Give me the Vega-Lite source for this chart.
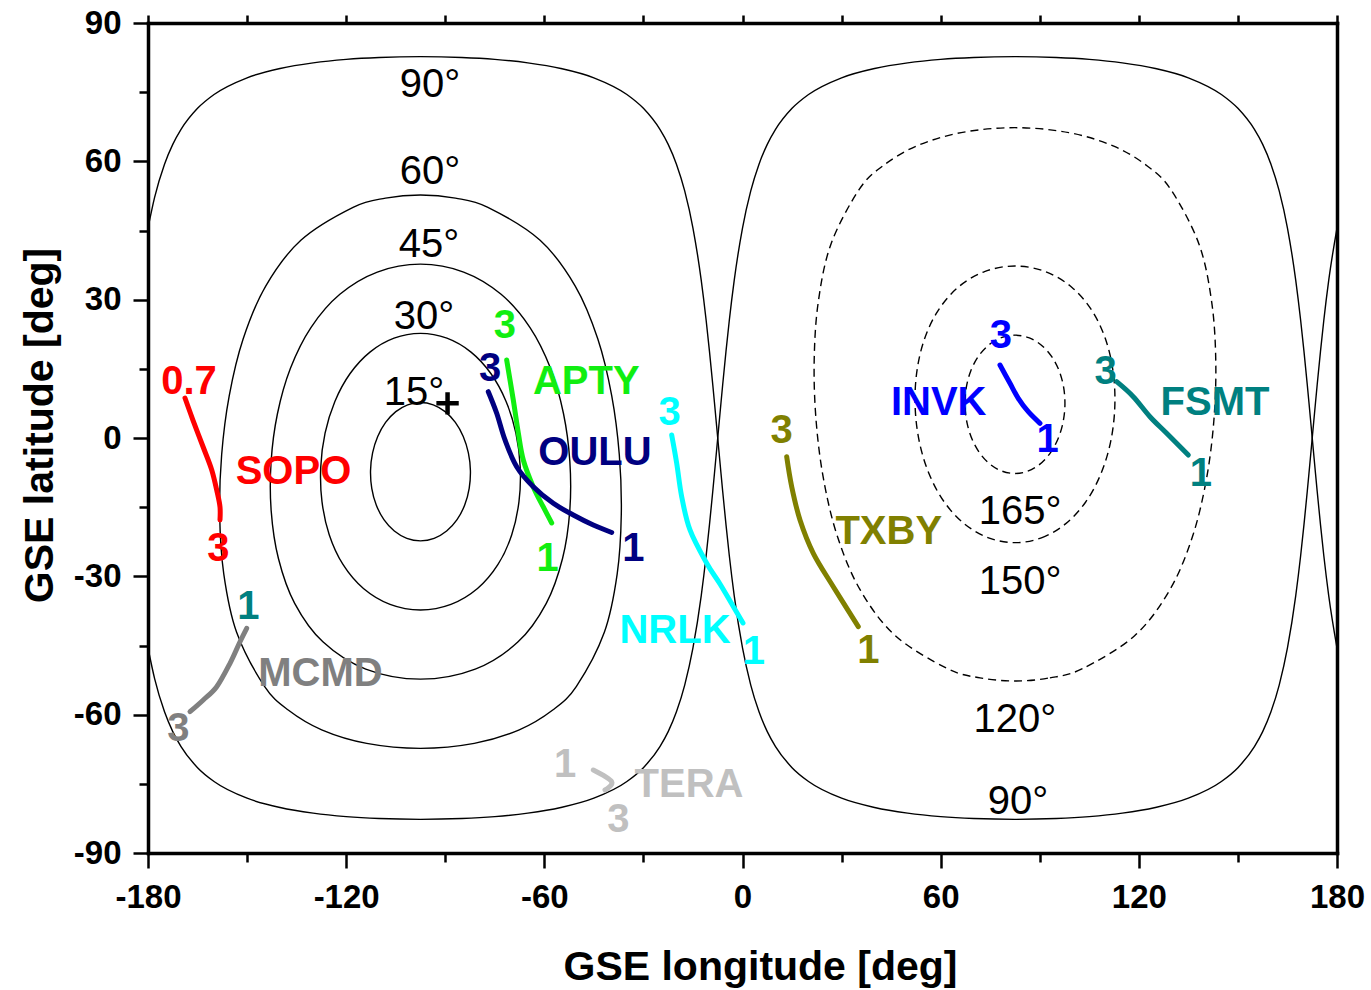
{
"$schema": "https://vega.github.io/schema/vega-lite/v6.json",
"width": 1189,
"height": 830,
"autosize": {"type": "none"},
"padding": {"left": 148, "top": 23, "right": 34, "bottom": 137},
"background": "white",
"config": {"view": {"stroke": null}, "font": "Liberation Sans"},
"datasets": {
"gc": [
{"g":"A","lon":-180,"lat":45.54},{"g":"A","lon":-178,"lat":52.18},{"g":"A","lon":-175,"lat":59.38},{"g":"A","lon":-172.5,"lat":63.67},{"g":"A","lon":-170,"lat":66.92},{"g":"A","lon":-165,"lat":71.49},{"g":"A","lon":-160,"lat":74.49},{"g":"A","lon":-150,"lat":78.12},{"g":"A","lon":-140,"lat":80.14},{"g":"A","lon":-130,"lat":81.36},{"g":"A","lon":-120,"lat":82.11},{"g":"A","lon":-110,"lat":82.52},{"g":"A","lon":-97.5,"lat":82.70},{"g":"A","lon":-85,"lat":82.52},{"g":"A","lon":-75,"lat":82.11},{"g":"A","lon":-65,"lat":81.36},{"g":"A","lon":-55,"lat":80.14},{"g":"A","lon":-45,"lat":78.12},{"g":"A","lon":-35,"lat":74.49},{"g":"A","lon":-30,"lat":71.49},{"g":"A","lon":-25,"lat":66.92},{"g":"A","lon":-22.5,"lat":63.67},{"g":"A","lon":-20,"lat":59.38},{"g":"A","lon":-17.5,"lat":53.58},{"g":"A","lon":-15,"lat":45.54},{"g":"A","lon":-12.5,"lat":34.23},{"g":"A","lon":-11,"lat":25.48},{"g":"A","lon":-10,"lat":18.80},{"g":"A","lon":-9,"lat":11.55},{"g":"A","lon":-8.5,"lat":7.76},{"g":"A","lon":-7.5,"lat":0},{"g":"A","lon":-6.5,"lat":-7.76},{"g":"A","lon":-6,"lat":-11.55},{"g":"A","lon":-5,"lat":-18.80},{"g":"A","lon":-4,"lat":-25.48},{"g":"A","lon":-2.5,"lat":-34.23},{"g":"A","lon":0,"lat":-45.54},{"g":"A","lon":2.5,"lat":-53.58},{"g":"A","lon":5,"lat":-59.38},{"g":"A","lon":7.5,"lat":-63.67},{"g":"A","lon":10,"lat":-66.92},{"g":"A","lon":15,"lat":-71.49},{"g":"A","lon":20,"lat":-74.49},{"g":"A","lon":30,"lat":-78.12},{"g":"A","lon":40,"lat":-80.14},{"g":"A","lon":50,"lat":-81.36},{"g":"A","lon":60,"lat":-82.11},{"g":"A","lon":70,"lat":-82.52},{"g":"A","lon":82.5,"lat":-82.70},{"g":"A","lon":95,"lat":-82.52},{"g":"A","lon":105,"lat":-82.11},{"g":"A","lon":115,"lat":-81.36},{"g":"A","lon":125,"lat":-80.14},{"g":"A","lon":135,"lat":-78.12},{"g":"A","lon":145,"lat":-74.49},{"g":"A","lon":150,"lat":-71.49},{"g":"A","lon":155,"lat":-66.92},{"g":"A","lon":157.5,"lat":-63.67},{"g":"A","lon":160,"lat":-59.38},{"g":"A","lon":162.5,"lat":-53.58},{"g":"A","lon":165,"lat":-45.54},{"g":"A","lon":167.5,"lat":-34.23},{"g":"A","lon":169,"lat":-25.48},{"g":"A","lon":170,"lat":-18.80},{"g":"A","lon":171,"lat":-11.55},{"g":"A","lon":171.5,"lat":-7.76},{"g":"A","lon":172.5,"lat":0},{"g":"A","lon":173.5,"lat":7.76},{"g":"A","lon":174,"lat":11.55},{"g":"A","lon":175,"lat":18.80},{"g":"A","lon":176,"lat":25.48},{"g":"A","lon":177.5,"lat":34.23},{"g":"A","lon":180,"lat":45.54},
{"g":"B","lon":-180,"lat":-45.54},{"g":"B","lon":-178,"lat":-52.18},{"g":"B","lon":-175,"lat":-59.38},{"g":"B","lon":-172.5,"lat":-63.67},{"g":"B","lon":-170,"lat":-66.92},{"g":"B","lon":-165,"lat":-71.49},{"g":"B","lon":-160,"lat":-74.49},{"g":"B","lon":-150,"lat":-78.12},{"g":"B","lon":-140,"lat":-80.14},{"g":"B","lon":-130,"lat":-81.36},{"g":"B","lon":-120,"lat":-82.11},{"g":"B","lon":-110,"lat":-82.52},{"g":"B","lon":-97.5,"lat":-82.70},{"g":"B","lon":-85,"lat":-82.52},{"g":"B","lon":-75,"lat":-82.11},{"g":"B","lon":-65,"lat":-81.36},{"g":"B","lon":-55,"lat":-80.14},{"g":"B","lon":-45,"lat":-78.12},{"g":"B","lon":-35,"lat":-74.49},{"g":"B","lon":-30,"lat":-71.49},{"g":"B","lon":-25,"lat":-66.92},{"g":"B","lon":-22.5,"lat":-63.67},{"g":"B","lon":-20,"lat":-59.38},{"g":"B","lon":-17.5,"lat":-53.58},{"g":"B","lon":-15,"lat":-45.54},{"g":"B","lon":-12.5,"lat":-34.23},{"g":"B","lon":-11,"lat":-25.48},{"g":"B","lon":-10,"lat":-18.80},{"g":"B","lon":-9,"lat":-11.55},{"g":"B","lon":-8.5,"lat":-7.76},{"g":"B","lon":-7.5,"lat":0},{"g":"B","lon":-6.5,"lat":7.76},{"g":"B","lon":-6,"lat":11.55},{"g":"B","lon":-5,"lat":18.80},{"g":"B","lon":-4,"lat":25.48},{"g":"B","lon":-2.5,"lat":34.23},{"g":"B","lon":0,"lat":45.54},{"g":"B","lon":2.5,"lat":53.58},{"g":"B","lon":5,"lat":59.38},{"g":"B","lon":7.5,"lat":63.67},{"g":"B","lon":10,"lat":66.92},{"g":"B","lon":15,"lat":71.49},{"g":"B","lon":20,"lat":74.49},{"g":"B","lon":30,"lat":78.12},{"g":"B","lon":40,"lat":80.14},{"g":"B","lon":50,"lat":81.36},{"g":"B","lon":60,"lat":82.11},{"g":"B","lon":70,"lat":82.52},{"g":"B","lon":82.5,"lat":82.70},{"g":"B","lon":95,"lat":82.52},{"g":"B","lon":105,"lat":82.11},{"g":"B","lon":115,"lat":81.36},{"g":"B","lon":125,"lat":80.14},{"g":"B","lon":135,"lat":78.12},{"g":"B","lon":145,"lat":74.49},{"g":"B","lon":150,"lat":71.49},{"g":"B","lon":155,"lat":66.92},{"g":"B","lon":157.5,"lat":63.67},{"g":"B","lon":160,"lat":59.38},{"g":"B","lon":162.5,"lat":53.58},{"g":"B","lon":165,"lat":45.54},{"g":"B","lon":167.5,"lat":34.23},{"g":"B","lon":169,"lat":25.48},{"g":"B","lon":170,"lat":18.80},{"g":"B","lon":171,"lat":11.55},{"g":"B","lon":171.5,"lat":7.76},{"g":"B","lon":172.5,"lat":0},{"g":"B","lon":173.5,"lat":-7.76},{"g":"B","lon":174,"lat":-11.55},{"g":"B","lon":175,"lat":-18.80},{"g":"B","lon":176,"lat":-25.48},{"g":"B","lon":177.5,"lat":-34.23},{"g":"B","lon":180,"lat":-45.54}
],
"solid": [
{"c":"15","i":0,"lon":-97.5,"lat":7.70},{"c":"15","i":1,"lon":-93.63,"lat":7.20},{"c":"15","i":2,"lon":-90.03,"lat":5.72},{"c":"15","i":3,"lon":-86.94,"lat":3.37},{"c":"15","i":4,"lon":-84.55,"lat":0.32},{"c":"15","i":5,"lon":-83.00,"lat":-3.23},{"c":"15","i":6,"lon":-82.38,"lat":-7.05},{"c":"15","i":7,"lon":-82.75,"lat":-10.91},{"c":"15","i":8,"lon":-84.11,"lat":-14.54},{"c":"15","i":9,"lon":-86.43,"lat":-17.71},{"c":"15","i":10,"lon":-89.58,"lat":-20.18},{"c":"15","i":11,"lon":-93.36,"lat":-21.76},{"c":"15","i":12,"lon":-97.5,"lat":-22.30},{"c":"15","i":13,"lon":-101.64,"lat":-21.76},{"c":"15","i":14,"lon":-105.42,"lat":-20.18},{"c":"15","i":15,"lon":-108.57,"lat":-17.71},{"c":"15","i":16,"lon":-110.89,"lat":-14.54},{"c":"15","i":17,"lon":-112.25,"lat":-10.91},{"c":"15","i":18,"lon":-112.62,"lat":-7.05},{"c":"15","i":19,"lon":-112.00,"lat":-3.23},{"c":"15","i":20,"lon":-110.45,"lat":0.32},{"c":"15","i":21,"lon":-108.06,"lat":3.37},{"c":"15","i":22,"lon":-104.97,"lat":5.72},{"c":"15","i":23,"lon":-101.37,"lat":7.20},
{"c":"30","i":0,"lon":-97.5,"lat":22.70},{"c":"30","i":1,"lon":-89.50,"lat":21.65},{"c":"30","i":2,"lon":-82.20,"lat":18.63},{"c":"30","i":3,"lon":-76.14,"lat":13.93},{"c":"30","i":4,"lon":-71.58,"lat":7.93},{"c":"30","i":5,"lon":-68.61,"lat":1.05},{"c":"30","i":6,"lon":-67.30,"lat":-6.32},{"c":"30","i":7,"lon":-67.68,"lat":-13.79},{"c":"30","i":8,"lon":-69.87,"lat":-20.98},{"c":"30","i":9,"lon":-74.03,"lat":-27.43},{"c":"30","i":10,"lon":-80.23,"lat":-32.65},{"c":"30","i":11,"lon":-88.28,"lat":-36.09},{"c":"30","i":12,"lon":-97.5,"lat":-37.30},{"c":"30","i":13,"lon":-106.72,"lat":-36.09},{"c":"30","i":14,"lon":-114.77,"lat":-32.65},{"c":"30","i":15,"lon":-120.97,"lat":-27.43},{"c":"30","i":16,"lon":-125.13,"lat":-20.98},{"c":"30","i":17,"lon":-127.32,"lat":-13.79},{"c":"30","i":18,"lon":-127.70,"lat":-6.32},{"c":"30","i":19,"lon":-126.39,"lat":1.05},{"c":"30","i":20,"lon":-123.42,"lat":7.93},{"c":"30","i":21,"lon":-118.86,"lat":13.93},{"c":"30","i":22,"lon":-112.80,"lat":18.63},{"c":"30","i":23,"lon":-105.50,"lat":21.65},
{"c":"45","i":0,"lon":-97.5,"lat":37.70},{"c":"45","i":1,"lon":-84.43,"lat":35.99},{"c":"45","i":2,"lon":-73.09,"lat":31.17},{"c":"45","i":3,"lon":-64.33,"lat":23.96},{"c":"45","i":4,"lon":-58.13,"lat":15.12},{"c":"45","i":5,"lon":-54.19,"lat":5.26},{"c":"45","i":6,"lon":-52.27,"lat":-5.16},{"c":"45","i":7,"lon":-52.29,"lat":-15.75},{"c":"45","i":8,"lon":-54.49,"lat":-26.14},{"c":"45","i":9,"lon":-59.41,"lat":-35.86},{"c":"45","i":10,"lon":-67.95,"lat":-44.21},{"c":"45","i":11,"lon":-80.92,"lat":-50.12},{"c":"45","i":12,"lon":-97.5,"lat":-52.30},{"c":"45","i":13,"lon":-114.08,"lat":-50.12},{"c":"45","i":14,"lon":-127.05,"lat":-44.21},{"c":"45","i":15,"lon":-135.59,"lat":-35.86},{"c":"45","i":16,"lon":-140.51,"lat":-26.14},{"c":"45","i":17,"lon":-142.71,"lat":-15.75},{"c":"45","i":18,"lon":-142.73,"lat":-5.16},{"c":"45","i":19,"lon":-140.81,"lat":5.26},{"c":"45","i":20,"lon":-136.87,"lat":15.12},{"c":"45","i":21,"lon":-130.67,"lat":23.96},{"c":"45","i":22,"lon":-121.91,"lat":31.17},{"c":"45","i":23,"lon":-110.57,"lat":35.99},
{"c":"60","i":0,"lon":-97.5,"lat":52.70},{"c":"60","i":1,"lon":-86.92,"lat":52.01},{"c":"60","i":2,"lon":-77.09,"lat":50.02},{"c":"60","i":3,"lon":-61.28,"lat":42.88},{"c":"60","i":4,"lon":-50.64,"lat":32.95},{"c":"60","i":5,"lon":-43.80,"lat":21.47},{"c":"60","i":6,"lon":-39.59,"lat":9.14},{"c":"60","i":7,"lon":-37.30,"lat":-3.64},{"c":"60","i":8,"lon":-36.70,"lat":-16.61},{"c":"60","i":9,"lon":-37.95,"lat":-29.54},{"c":"60","i":10,"lon":-41.83,"lat":-42.14},{"c":"60","i":11,"lon":-50.28,"lat":-53.85},{"c":"60","i":12,"lon":-57.45,"lat":-58.99},{"c":"60","i":13,"lon":-67.59,"lat":-63.29},{"c":"60","i":14,"lon":-81.21,"lat":-66.23},{"c":"60","i":15,"lon":-97.5,"lat":-67.30},{"c":"60","i":16,"lon":-113.79,"lat":-66.23},{"c":"60","i":17,"lon":-127.41,"lat":-63.29},{"c":"60","i":18,"lon":-137.55,"lat":-58.99},{"c":"60","i":19,"lon":-144.72,"lat":-53.85},{"c":"60","i":20,"lon":-153.17,"lat":-42.14},{"c":"60","i":21,"lon":-157.05,"lat":-29.54},{"c":"60","i":22,"lon":-158.30,"lat":-16.61},{"c":"60","i":23,"lon":-157.70,"lat":-3.64},{"c":"60","i":24,"lon":-155.41,"lat":9.14},{"c":"60","i":25,"lon":-151.20,"lat":21.47},{"c":"60","i":26,"lon":-144.36,"lat":32.95},{"c":"60","i":27,"lon":-133.72,"lat":42.88},{"c":"60","i":28,"lon":-117.91,"lat":50.02},{"c":"60","i":29,"lon":-108.08,"lat":52.01}
],
"dashed": [
{"c":"165","i":0,"lon":82.5,"lat":-7.70},{"c":"165","i":1,"lon":86.37,"lat":-7.20},{"c":"165","i":2,"lon":89.97,"lat":-5.72},{"c":"165","i":3,"lon":93.06,"lat":-3.37},{"c":"165","i":4,"lon":95.45,"lat":-0.32},{"c":"165","i":5,"lon":97.00,"lat":3.23},{"c":"165","i":6,"lon":97.62,"lat":7.05},{"c":"165","i":7,"lon":97.25,"lat":10.91},{"c":"165","i":8,"lon":95.89,"lat":14.54},{"c":"165","i":9,"lon":93.57,"lat":17.71},{"c":"165","i":10,"lon":90.42,"lat":20.18},{"c":"165","i":11,"lon":86.64,"lat":21.76},{"c":"165","i":12,"lon":82.5,"lat":22.30},{"c":"165","i":13,"lon":78.36,"lat":21.76},{"c":"165","i":14,"lon":74.58,"lat":20.18},{"c":"165","i":15,"lon":71.43,"lat":17.71},{"c":"165","i":16,"lon":69.11,"lat":14.54},{"c":"165","i":17,"lon":67.75,"lat":10.91},{"c":"165","i":18,"lon":67.38,"lat":7.05},{"c":"165","i":19,"lon":68.00,"lat":3.23},{"c":"165","i":20,"lon":69.55,"lat":-0.32},{"c":"165","i":21,"lon":71.94,"lat":-3.37},{"c":"165","i":22,"lon":75.03,"lat":-5.72},{"c":"165","i":23,"lon":78.63,"lat":-7.20},
{"c":"150","i":0,"lon":82.5,"lat":-22.70},{"c":"150","i":1,"lon":90.50,"lat":-21.65},{"c":"150","i":2,"lon":97.80,"lat":-18.63},{"c":"150","i":3,"lon":103.86,"lat":-13.93},{"c":"150","i":4,"lon":108.42,"lat":-7.93},{"c":"150","i":5,"lon":111.39,"lat":-1.05},{"c":"150","i":6,"lon":112.70,"lat":6.32},{"c":"150","i":7,"lon":112.32,"lat":13.79},{"c":"150","i":8,"lon":110.13,"lat":20.98},{"c":"150","i":9,"lon":105.97,"lat":27.43},{"c":"150","i":10,"lon":99.77,"lat":32.65},{"c":"150","i":11,"lon":91.72,"lat":36.09},{"c":"150","i":12,"lon":82.5,"lat":37.30},{"c":"150","i":13,"lon":73.28,"lat":36.09},{"c":"150","i":14,"lon":65.23,"lat":32.65},{"c":"150","i":15,"lon":59.03,"lat":27.43},{"c":"150","i":16,"lon":54.87,"lat":20.98},{"c":"150","i":17,"lon":52.68,"lat":13.79},{"c":"150","i":18,"lon":52.30,"lat":6.32},{"c":"150","i":19,"lon":53.61,"lat":-1.05},{"c":"150","i":20,"lon":56.58,"lat":-7.93},{"c":"150","i":21,"lon":61.14,"lat":-13.93},{"c":"150","i":22,"lon":67.20,"lat":-18.63},{"c":"150","i":23,"lon":74.50,"lat":-21.65},
{"c":"120","i":0,"lon":82.5,"lat":-52.70},{"c":"120","i":1,"lon":93.08,"lat":-52.01},{"c":"120","i":2,"lon":102.91,"lat":-50.02},{"c":"120","i":3,"lon":118.72,"lat":-42.88},{"c":"120","i":4,"lon":129.36,"lat":-32.95},{"c":"120","i":5,"lon":136.20,"lat":-21.47},{"c":"120","i":6,"lon":140.41,"lat":-9.14},{"c":"120","i":7,"lon":142.70,"lat":3.64},{"c":"120","i":8,"lon":143.30,"lat":16.61},{"c":"120","i":9,"lon":142.05,"lat":29.54},{"c":"120","i":10,"lon":138.17,"lat":42.14},{"c":"120","i":11,"lon":129.72,"lat":53.85},{"c":"120","i":12,"lon":122.55,"lat":58.99},{"c":"120","i":13,"lon":112.41,"lat":63.29},{"c":"120","i":14,"lon":98.79,"lat":66.23},{"c":"120","i":15,"lon":82.5,"lat":67.30},{"c":"120","i":16,"lon":66.21,"lat":66.23},{"c":"120","i":17,"lon":52.59,"lat":63.29},{"c":"120","i":18,"lon":42.45,"lat":58.99},{"c":"120","i":19,"lon":35.28,"lat":53.85},{"c":"120","i":20,"lon":26.83,"lat":42.14},{"c":"120","i":21,"lon":22.95,"lat":29.54},{"c":"120","i":22,"lon":21.70,"lat":16.61},{"c":"120","i":23,"lon":22.30,"lat":3.64},{"c":"120","i":24,"lon":24.59,"lat":-9.14},{"c":"120","i":25,"lon":28.80,"lat":-21.47},{"c":"120","i":26,"lon":35.64,"lat":-32.95},{"c":"120","i":27,"lon":46.28,"lat":-42.88},{"c":"120","i":28,"lon":62.09,"lat":-50.02},{"c":"120","i":29,"lon":71.92,"lat":-52.01}
],
"tracks": [
{"k":"SOPO","i":0,"lon":-168.8,"lat":8.67},{"k":"SOPO","i":1,"lon":-166.4,"lat":3.90},{"k":"SOPO","i":2,"lon":-163.3,"lat":-1.95},{"k":"SOPO","i":3,"lon":-160.7,"lat":-6.94},{"k":"SOPO","i":4,"lon":-159.0,"lat":-11.93},{"k":"SOPO","i":5,"lon":-158.2,"lat":-14.96},{"k":"SOPO","i":6,"lon":-158.2,"lat":-17.78},
{"k":"APTY","i":0,"lon":-71.40,"lat":16.92},{"k":"APTY","i":1,"lon":-69.40,"lat":8.24},{"k":"APTY","i":2,"lon":-67.88,"lat":1.08},{"k":"APTY","i":3,"lon":-66.37,"lat":-4.77},{"k":"APTY","i":4,"lon":-63.34,"lat":-10.63},{"k":"APTY","i":5,"lon":-60.31,"lat":-14.96},{"k":"APTY","i":6,"lon":-57.77,"lat":-18.43},
{"k":"OULU","i":0,"lon":-76.97,"lat":10.04},{"k":"OULU","i":1,"lon":-74.42,"lat":5.36},{"k":"OULU","i":2,"lon":-71.91,"lat":-0.43},{"k":"OULU","i":3,"lon":-68.37,"lat":-6.22},{"k":"OULU","i":4,"lon":-63.34,"lat":-10.56},{"k":"OULU","i":5,"lon":-57.29,"lat":-14.16},{"k":"OULU","i":6,"lon":-51.23,"lat":-16.70},{"k":"OULU","i":7,"lon":-45.18,"lat":-18.87},{"k":"OULU","i":8,"lon":-39.60,"lat":-20.49},
{"k":"NRLK","i":0,"lon":-21.44,"lat":0.65},{"k":"NRLK","i":1,"lon":-19.92,"lat":-5.49},{"k":"NRLK","i":2,"lon":-18.41,"lat":-12.73},{"k":"NRLK","i":3,"lon":-15.90,"lat":-19.95},{"k":"NRLK","i":4,"lon":-10.84,"lat":-27.17},{"k":"NRLK","i":5,"lon":-6.81,"lat":-31.66},{"k":"NRLK","i":6,"lon":-2.88,"lat":-36.43},{"k":"NRLK","i":7,"lon":0.15,"lat":-40.12},
{"k":"TXBY","i":0,"lon":13.38,"lat":-4.06},{"k":"TXBY","i":1,"lon":14.90,"lat":-10.56},{"k":"TXBY","i":2,"lon":17.41,"lat":-17.78},{"k":"TXBY","i":3,"lon":21.44,"lat":-25.01},{"k":"TXBY","i":4,"lon":27.49,"lat":-32.25},{"k":"TXBY","i":5,"lon":35.06,"lat":-40.92},
{"k":"INVK","i":0,"lon":77.96,"lat":15.83},{"k":"INVK","i":1,"lon":80.99,"lat":11.86},{"k":"INVK","i":2,"lon":83.50,"lat":8.61},{"k":"INVK","i":3,"lon":86.53,"lat":5.70},{"k":"INVK","i":4,"lon":90.07,"lat":3.19},
{"k":"FSMT","i":0,"lon":113.30,"lat":12.21},{"k":"FSMT","i":1,"lon":118.32,"lat":8.96},{"k":"FSMT","i":2,"lon":123.38,"lat":4.62},{"k":"FSMT","i":3,"lon":128.43,"lat":1.02},{"k":"FSMT","i":4,"lon":134.98,"lat":-3.69},
{"k":"MCMD","i":0,"lon":-150.12,"lat":-41.27},{"k":"MCMD","i":1,"lon":-152.14,"lat":-44.18},{"k":"MCMD","i":2,"lon":-155.17,"lat":-48.86},{"k":"MCMD","i":3,"lon":-159.20,"lat":-53.94},{"k":"MCMD","i":4,"lon":-163.26,"lat":-56.82},{"k":"MCMD","i":5,"lon":-167.28,"lat":-59.36},
{"k":"TERA","i":0,"lon":-45.17,"lat":-72.0},{"k":"TERA","i":1,"lon":-39.60,"lat":-74.54},{"k":"TERA","i":2,"lon":-41.63,"lat":-76.34}
],
"labels": [
{"t":"0.7","k":"SOPO","lon":-167.59,"lat":12.58},{"t":"SOPO","k":"SOPO","lon":-135.95,"lat":-6.94},{"t":"3","k":"SOPO","lon":-158.71,"lat":-23.57},
{"t":"3","k":"APTY","lon":-71.91,"lat":24.72},{"t":"APTY","k":"APTY","lon":-47.29,"lat":12.58},{"t":"1","k":"APTY","lon":-59.04,"lat":-25.74},
{"t":"3","k":"OULU","lon":-76.45,"lat":15.29},{"t":"OULU","k":"OULU","lon":-44.66,"lat":-2.78},{"t":"1","k":"OULU","lon":-33.06,"lat":-23.57},
{"t":"3","k":"NRLK","lon":-22.04,"lat":5.90},{"t":"NRLK","k":"NRLK","lon":-20.44,"lat":-41.42},{"t":"1","k":"NRLK","lon":3.48,"lat":-45.98},
{"t":"3","k":"TXBY","lon":11.87,"lat":1.95},{"t":"TXBY","k":"TXBY","lon":44.29,"lat":-19.95},{"t":"1","k":"TXBY","lon":38.09,"lat":-45.76},
{"t":"3","k":"INVK","lon":78.21,"lat":22.55},{"t":"INVK","k":"INVK","lon":59.40,"lat":8.13},{"t":"1","k":"INVK","lon":92.35,"lat":-0.07},
{"t":"3","k":"FSMT","lon":109.91,"lat":14.75},{"t":"FSMT","k":"FSMT","lon":143.06,"lat":8.13},{"t":"1","k":"FSMT","lon":138.76,"lat":-7.31},
{"t":"1","k":"MCMD start","lon":-149.63,"lat":-36.22},{"t":"MCMD","k":"MCMD","lon":-127.77,"lat":-50.75},{"t":"3","k":"MCMD","lon":-170.83,"lat":-62.61},
{"t":"1","k":"TERA","lon":-53.74,"lat":-70.55},{"t":"TERA","k":"TERA","lon":-16.20,"lat":-74.89},{"t":"3","k":"TERA","lon":-37.61,"lat":-82.48}
],
"clabels": [
{"t":"90°","lon":-94.62,"lat":76.99},{"t":"60°","lon":-94.62,"lat":58.12},{"t":"45°","lon":-94.92,"lat":42.29},{"t":"30°","lon":-96.43,"lat":26.67},{"t":"15°","lon":-99.46,"lat":10.19},
{"t":"165°","lon":84.02,"lat":-15.61},{"t":"150°","lon":84.02,"lat":-30.80},{"t":"120°","lon":82.50,"lat":-60.72},{"t":"90°","lon":83.41,"lat":-78.51}
],
"imf": [{"lon":-89.3,"lat":7.52}]
},
"layer": [
{
"data": {"name": "gc"},
"mark": {"type": "line", "interpolate": "monotone", "stroke": "#000", "strokeWidth": 1.4},
"encoding": {
"x": {"field": "lon", "type": "quantitative", "scale": {"domain": [-180, 180], "nice": false, "zero": false},
"axis": {"orient": "bottom", "values": [-180, -120, -60, 0, 60, 120, 180], "labelExpr": "'' + datum.value", "tickSize": 15, "tickWidth": 2.5, "tickColor": "#000", "domainColor": "#000", "domainWidth": 3.5, "domainCap": "square", "labelFont": "Liberation Sans", "labelFontSize": 33, "labelFontWeight": "bold", "labelColor": "#000", "labelPadding": 13, "labelFlush": false, "labelOverlap": false, "labelBound": false, "grid": false, "title": "GSE longitude [deg]", "titleFont": "Liberation Sans", "titleFontSize": 41, "titleFontWeight": "bold", "titleColor": "#000", "titlePadding": 33, "titleX": 612}},
"y": {"field": "lat", "type": "quantitative", "scale": {"domain": [-90, 90], "nice": false, "zero": false},
"axis": {"orient": "left", "values": [-90, -60, -30, 0, 30, 60, 90], "labelExpr": "'' + datum.value", "tickSize": 15, "tickWidth": 2.5, "tickColor": "#000", "domainColor": "#000", "domainWidth": 3.5, "domainCap": "square", "labelFont": "Liberation Sans", "labelFontSize": 33, "labelFontWeight": "bold", "labelColor": "#000", "labelPadding": 12, "labelFlush": false, "labelOverlap": false, "labelBound": false, "grid": false, "title": "GSE latitude [deg]", "titleFont": "Liberation Sans", "titleFontSize": 41, "titleFontWeight": "bold", "titleColor": "#000", "titlePadding": 12, "titleY": 402}},
"detail": {"field": "g", "type": "nominal"}
}
},
{
"data": {"name": "solid"},
"mark": {"type": "line", "interpolate": "cardinal-closed", "stroke": "#000", "strokeWidth": 1.4},
"encoding": {
"x": {"field": "lon", "type": "quantitative", "scale": {"domain": [-180, 180], "nice": false, "zero": false},
"axis": {"orient": "bottom", "values": [-150, -90, -30, 30, 90, 150], "tickSize": 9, "tickWidth": 2.5, "tickColor": "#000", "labels": false, "domain": false, "grid": false, "title": null}},
"y": {"field": "lat", "type": "quantitative", "scale": {"domain": [-90, 90], "nice": false, "zero": false},
"axis": {"orient": "left", "values": [-75, -45, -15, 15, 45, 75], "tickSize": 9, "tickWidth": 2.5, "tickColor": "#000", "labels": false, "domain": false, "grid": false, "title": null}},
"detail": {"field": "c", "type": "nominal"},
"order": {"field": "i", "type": "quantitative"}
}
},
{
"data": {"name": "dashed"},
"mark": {"type": "line", "interpolate": "cardinal-closed", "stroke": "#000", "strokeWidth": 1.4, "strokeDash": [8, 5]},
"encoding": {
"x": {"field": "lon", "type": "quantitative", "scale": {"domain": [-180, 180], "nice": false, "zero": false},
"axis": {"orient": "top", "values": [-180, -150, -120, -90, -60, -30, 0, 30, 60, 90, 120, 150, 180], "tickSize": 8, "tickWidth": 2.5, "tickColor": "#000", "labels": false, "domain": true, "domainColor": "#000", "domainWidth": 3.5, "domainCap": "square", "grid": false, "title": null}},
"y": {"field": "lat", "type": "quantitative", "scale": {"domain": [-90, 90], "nice": false, "zero": false},
"axis": {"orient": "right", "ticks": false, "labels": false, "domain": true, "domainColor": "#000", "domainWidth": 3.5, "domainCap": "square", "grid": false, "title": null}},
"detail": {"field": "c", "type": "nominal"},
"order": {"field": "i", "type": "quantitative"}
}
},
{
"data": {"name": "tracks"},
"mark": {"type": "line", "interpolate": "cardinal", "strokeWidth": 5, "strokeCap": "round"},
"encoding": {
"x": {"field": "lon", "type": "quantitative", "scale": {"domain": [-180, 180], "nice": false, "zero": false}, "axis": null},
"y": {"field": "lat", "type": "quantitative", "scale": {"domain": [-90, 90], "nice": false, "zero": false}, "axis": null},
"color": {"field": "k", "type": "nominal", "legend": null,
"scale": {"domain": ["SOPO", "APTY", "OULU", "NRLK", "TXBY", "INVK", "FSMT", "MCMD", "TERA", "MCMD start"], "range": ["#ff0000", "#11ee11", "#000080", "#00ffff", "#808000", "#0000ff", "#008080", "#808080", "#c0c0c0", "#008080"]}},
"detail": {"field": "k", "type": "nominal"},
"order": {"field": "i", "type": "quantitative"}
}
},
{
"data": {"name": "clabels"},
"mark": {"type": "text", "font": "Liberation Sans", "fontSize": 40, "fontWeight": "normal", "fill": "#000", "align": "center", "baseline": "middle", "dy": 2},
"encoding": {
"x": {"field": "lon", "type": "quantitative", "scale": {"domain": [-180, 180], "nice": false, "zero": false}, "axis": null},
"y": {"field": "lat", "type": "quantitative", "scale": {"domain": [-90, 90], "nice": false, "zero": false}, "axis": null},
"text": {"field": "t", "type": "nominal"}
}
},
{
"data": {"name": "labels"},
"mark": {"type": "text", "font": "Liberation Sans", "fontSize": 40, "fontWeight": "bold", "align": "center", "baseline": "middle", "dy": 2},
"encoding": {
"x": {"field": "lon", "type": "quantitative", "scale": {"domain": [-180, 180], "nice": false, "zero": false}, "axis": null},
"y": {"field": "lat", "type": "quantitative", "scale": {"domain": [-90, 90], "nice": false, "zero": false}, "axis": null},
"text": {"field": "t", "type": "nominal"},
"color": {"field": "k", "type": "nominal", "legend": null,
"scale": {"domain": ["SOPO", "APTY", "OULU", "NRLK", "TXBY", "INVK", "FSMT", "MCMD", "TERA", "MCMD start"], "range": ["#ff0000", "#11ee11", "#000080", "#00ffff", "#808000", "#0000ff", "#008080", "#808080", "#c0c0c0", "#008080"]}}
}
},
{
"data": {"name": "imf"},
"mark": {"type": "point", "shape": "M-1,0L1,0M0,-1L0,1", "size": 500, "stroke": "#000", "strokeWidth": 4.5, "filled": false, "opacity": 1},
"encoding": {
"x": {"field": "lon", "type": "quantitative", "scale": {"domain": [-180, 180], "nice": false, "zero": false}, "axis": null},
"y": {"field": "lat", "type": "quantitative", "scale": {"domain": [-90, 90], "nice": false, "zero": false}, "axis": null}
}
}
],
"resolve": {"axis": {"x": "independent", "y": "independent"}}
}
